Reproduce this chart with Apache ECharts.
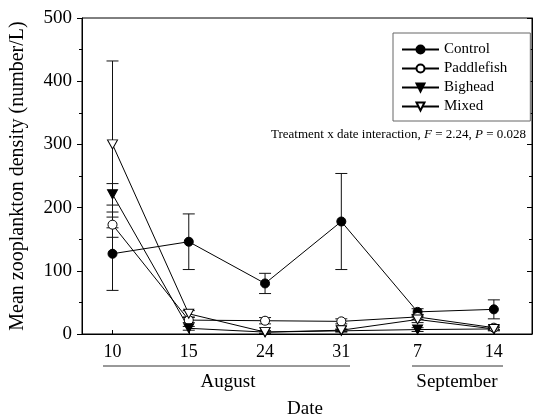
<!DOCTYPE html>
<html>
<head>
<meta charset="utf-8">
<script src="https://cdn.jsdelivr.net/npm/echarts@6/dist/echarts.min.js"></script>
<style>
html,body{margin:0;padding:0;background:#fff;}
#chart{width:534px;height:417px;}
</style>
</head>
<body>
<div id="chart"></div>
<script>
var dateLabels = ['10', '15', '24', '31', '7', '14'];
var seriesNames = ['Control', 'Paddlefish', 'Bighead', 'Mixed'];
var control = [127, 146, 80, 178, 35, 39];
var controlSE = [58, 44, 16, 76, 5, 15];
var paddlefish = [173, 22, 21, 20, 27, 10];
var paddlefishSE = [20, 4, 5, 4, 4, 3];
var bighead = [221, 9, 3, 5, 7, 8];
var bigheadSE = [17, 3, 2, 2, 3, 2];
var mixed = [300, 32, 3, 6, 23, 8];
var mixedSE = [132, 5, 2, 2, 5, 3];
var yTicks = [0, 100, 200, 300, 400, 500];

var FONT = '"Liberation Serif", "Times New Roman", serif';
var downTri = 'path://M0,0L10,0L5,9Z';

function pts(arr) { return arr.map(function (v, i) { return [i, v]; }); }
function errs(arr, se) { return arr.map(function (v, i) { return [i, v - se[i], v + se[i]]; }); }

function errorSeries(arr, se) {
  return {
    type: 'custom',
    silent: true,
    z: 1,
    data: errs(arr, se),
    renderItem: function (params, api) {
      var lo = api.coord([api.value(0), api.value(1)]);
      var hi = api.coord([api.value(0), api.value(2)]);
      var w = 6;
      var st = { stroke: '#111', lineWidth: 1 };
      return {
        type: 'group',
        children: [
          { type: 'line', shape: { x1: lo[0], y1: lo[1], x2: hi[0], y2: hi[1] }, style: st },
          { type: 'line', shape: { x1: lo[0] - w, y1: lo[1], x2: lo[0] + w, y2: lo[1] }, style: st },
          { type: 'line', shape: { x1: hi[0] - w, y1: hi[1], x2: hi[0] + w, y2: hi[1] }, style: st }
        ]
      };
    }
  };
}

function lineSeries(name, arr, symbol, fill, size) {
  return {
    name: name,
    type: 'line',
    z: 3,
    data: pts(arr),
    symbol: symbol,
    symbolSize: size,
    showAllSymbol: true,
    lineStyle: { color: '#000', width: 1 },
    itemStyle: { color: fill, borderColor: '#000', borderWidth: 1 },
    emphasis: { disabled: true },
    animation: false
  };
}

var chart = echarts.init(document.getElementById('chart'), null, { renderer: 'canvas' });

var option = {
  animation: false,
  backgroundColor: '#fff',
  textStyle: { fontFamily: FONT, color: '#000' },
  grid: { left: 81, right: 2, top: 18, bottom: 83, show: true, borderColor: '#000', borderWidth: 1, backgroundColor: 'transparent' },
  legend: {
    orient: 'vertical',
    left: 393,
    top: 33,
    padding: [9, 23, 7, 8],
    itemGap: 4,
    itemWidth: 37,
    itemHeight: 10,
    borderColor: '#666',
    borderWidth: 1,
    backgroundColor: '#fff',
    textStyle: { fontFamily: FONT, fontSize: 15, color: '#000' },
    data: seriesNames
  },
  xAxis: {
    type: 'value',
    min: -0.4,
    max: 5.5,
    splitLine: { show: false },
    axisLine: { show: true, onZero: false, lineStyle: { color: '#000', width: 1 } },
    axisTick: { show: true, inside: true, length: 4, customValues: [0, 1, 2, 3, 4, 5], lineStyle: { color: '#000' } },
    axisLabel: {
      customValues: [0, 1, 2, 3, 4, 5],
      margin: 9,
      fontFamily: FONT, fontSize: 18, color: '#000',
      formatter: function (v) { return dateLabels[Math.round(v)]; }
    }
  },
  yAxis: [{
    type: 'value',
    min: 0, max: 500, interval: 100,
    name: 'Mean zooplankton density (number/L)',
    nameLocation: 'middle',
    nameGap: 54,
    nameTextStyle: { fontFamily: FONT, fontSize: 20, color: '#000' },
    splitLine: { show: false },
    axisLine: { show: true, onZero: false, lineStyle: { color: '#000', width: 1 } },
    axisTick: { show: true, inside: false, length: 5, lineStyle: { color: '#000' } },
    minorTick: { show: true, splitNumber: 2, length: 3, lineStyle: { color: '#000' } },
    axisLabel: { margin: 10, fontFamily: FONT, fontSize: 19, color: '#000',
      formatter: function (v) { return yTicks.indexOf(v) >= 0 ? String(v) : ''; } }
  }, {
    type: 'value',
    position: 'right',
    min: 0, max: 500, interval: 100,
    splitLine: { show: false },
    axisLine: { show: true, onZero: false, lineStyle: { color: '#000', width: 1 } },
    axisTick: { show: true, inside: true, length: 5, lineStyle: { color: '#000' } },
    minorTick: { show: true, splitNumber: 2, length: 3, lineStyle: { color: '#000' } },
    axisLabel: { show: false }
  }],
  series: [
    errorSeries(control, controlSE),
    errorSeries(paddlefish, paddlefishSE),
    errorSeries(bighead, bigheadSE),
    errorSeries(mixed, mixedSE),
    lineSeries('Control', control, 'circle', '#000', 9),
    lineSeries('Paddlefish', paddlefish, 'circle', '#fff', 9),
    lineSeries('Bighead', bighead, downTri, '#000', [10, 9]),
    lineSeries('Mixed', mixed, downTri, '#fff', [10, 9])
  ],
  graphic: [
    { type: 'line', shape: { x1: 103, y1: 366, x2: 350, y2: 366 }, style: { stroke: '#333', lineWidth: 1 } },
    { type: 'line', shape: { x1: 412, y1: 366, x2: 503, y2: 366 }, style: { stroke: '#333', lineWidth: 1 } },
    { type: 'text', x: 228, y: 382, style: { text: 'August', font: '19px ' + FONT, fill: '#000', textAlign: 'center', textVerticalAlign: 'middle' } },
    { type: 'text', x: 457, y: 382, style: { text: 'September', font: '19px ' + FONT, fill: '#000', textAlign: 'center', textVerticalAlign: 'middle' } },
    { type: 'text', x: 305, y: 409, style: { text: 'Date', font: '19px ' + FONT, fill: '#000', textAlign: 'center', textVerticalAlign: 'middle' } },
    { type: 'text', x: 526, y: 135, style: {
      text: '{n|Treatment x date interaction, }{i|F}{n| = 2.24, }{i|P}{n| = 0.028}',
      rich: {
        n: { fontFamily: FONT, fontSize: 13, fill: '#000' },
        i: { fontFamily: FONT, fontSize: 13, fontStyle: 'italic', fill: '#000' }
      },
      textAlign: 'right', textVerticalAlign: 'middle'
    } }
  ]
};
chart.setOption(option);
</script>
</body>
</html>
